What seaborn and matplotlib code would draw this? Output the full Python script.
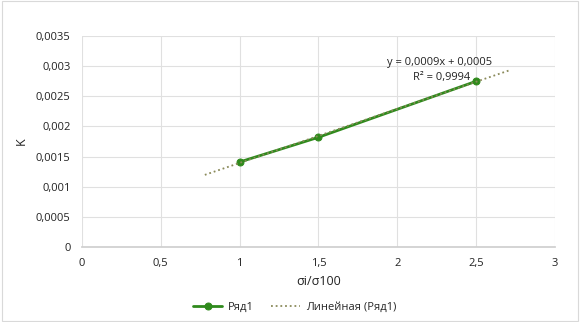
import numpy as np
import pandas as pd
import matplotlib
matplotlib.use("Agg")
import matplotlib.pyplot as plt
import seaborn as sns
from matplotlib.ticker import FuncFormatter

x_vals = [1.0, 1.5, 2.5]
k_vals = [0.00141, 0.00182, 0.00275]
series_name = "Ряд1"
trend_name = "Линейная (Ряд1)"
eq_text = "y = 0,0009x + 0,0005"
r2_text = "R² = 0,9994"

sns.set_theme(style="white")
plt.rcParams['font.family'] = ['Open Sans', 'DejaVu Sans']

df = pd.DataFrame({"x": x_vals, "K": k_vals})

fig = plt.figure(figsize=(5.8, 3.22), dpi=100)
ax = fig.add_axes([0.141, 0.233, 0.816, 0.655])

green = "#2f8a1c"
sns.lineplot(data=df, x="x", y="K", ax=ax, color=green, marker="o",
             markersize=5, markeredgecolor=green, linewidth=2.0, label=series_name)

slope, intercept = np.polyfit(x_vals, k_vals, 1)
tx = np.array([0.78, 2.72])
ax.plot(tx, slope * tx + intercept, linestyle=(0, (1, 1.6)), color="#8a8a5a",
        linewidth=1.3, label=trend_name)

ax.set_xlim(0, 3)
ax.set_ylim(0, 0.0035)
ax.set_xticks(np.arange(0, 3.01, 0.5))
ax.set_yticks(np.arange(0, 0.00351, 0.0005))

def fmt(v, pos):
    s = ("%.4f" % v).rstrip("0").rstrip(".")
    return s.replace(".", ",")

ax.xaxis.set_major_formatter(FuncFormatter(fmt))
ax.yaxis.set_major_formatter(FuncFormatter(fmt))
ax.grid(True, color="#e0e0e0", linewidth=0.8)
for s in ["top", "right", "left"]:
    ax.spines[s].set_visible(False)
ax.spines["bottom"].set_color("#cfcfcf")
ax.tick_params(axis="both", labelsize=8, colors="#222222", length=0, pad=8)
ax.set_xlabel("σi/σ100", fontsize=9, color="#222222", labelpad=4)
ax.set_ylabel("K", fontsize=9, color="#222222", labelpad=6)

ax.text(2.27, 0.00306, eq_text, fontsize=8, ha="center", va="center", color="#222222")
ax.text(2.46, 0.00281, r2_text, fontsize=8, ha="right", va="center", color="#222222")

leg = ax.legend(loc="upper center", bbox_to_anchor=(0.45, -0.215), ncol=2, frameon=False,
                fontsize=8, handlelength=2.6, handletextpad=0.5, columnspacing=1.6)

fig.patches.append(plt.Rectangle((0.003, 0.003), 0.994, 0.994, transform=fig.transFigure,
                                 fill=False, edgecolor="#d9d9d9", linewidth=0.8))

fig.savefig("out.png", dpi=100)
